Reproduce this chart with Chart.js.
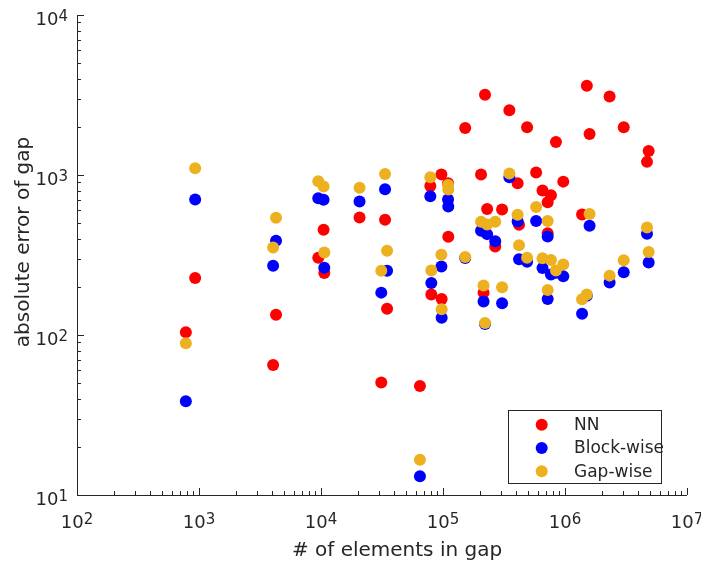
<!DOCTYPE html>
<html>
<head>
<meta charset="utf-8">
<script src="https://cdn.jsdelivr.net/npm/chart.js"></script>
<style>
  body { margin:0; padding:0; background:#fff }
  canvas { display:block }
</style>
</head>
<body>
<canvas id="chart" width="701" height="565"></canvas>
<script>
// gap sizes (# of elements) and absolute errors
const gapSizes = [780, 930, 4050, 4280, 9500, 10500, 10640, 20700, 31200, 33500,
  34800, 64700, 78700, 80200, 97000, 97500, 110000, 110500, 152000, 205000,
  215000, 221000, 230000, 268000, 305000, 350000, 409000, 420000, 489000, 580000,
  654000, 721000, 721000, 767000, 843000, 968000, 1380000, 1510000, 1590000, 2320000,
  3030000, 4700000, 4850000];
const nnError = [104, 227, 65, 134, 304, 455, 244, 542, 50.5, 525,
  146, 48, 855, 179, 1009, 168, 888, 411, 1967, 1006,
  184, 3176, 614, 357, 608, 2535, 888, 488, 1986, 1035,
  800, 676, 433, 747, 1607, 909, 566, 3614, 1803, 3097,
  1986, 1208, 1413];
const blockError = [38.5, 703, 271, 388, 716, 700, 263, 682, 184, 815,
  252, 13.1, 736, 211, 268, 128, 703, 635, 303, 448,
  162, 117, 427, 386, 158, 968, 512, 297, 287, 515,
  262, 413, 168, 239, 245, 233, 136, 176, 481, 213,
  247, 429, 284];
const gapError = [88.7, 1101, 352, 540, 914, 847, 328, 831, 252, 1016,
  336, 16.6, 968, 253, 317, 145, 865, 811, 307, 510,
  204, 119, 491, 510, 199, 1021, 564, 364, 304, 632,
  302, 515, 191, 294, 253, 276, 167, 179, 570, 235,
  293, 470, 330];

const xTickExps = [2, 3, 4, 5, 6, 7];
const yTickExps = [1, 2, 3, 4];
const seriesNames = ['NN', 'Block-wise', 'Gap-wise'];
const seriesColors = ['#ff0000', '#0000ff', '#edb120'];

const FONT = '"DejaVu Sans", "Liberation Sans", sans-serif';
const INK = '#262626';

function pts(vals) {
  return gapSizes.map((g, i) => ({ x: g, y: vals[i] }));
}

// draw "10" with a raised exponent; align = 'center' or 'right'
function drawPow(ctx, exp, x, baseline, align) {
  ctx.font = '18px ' + FONT;
  const wb = ctx.measureText('10').width;
  ctx.font = '15px ' + FONT;
  const we = ctx.measureText(String(exp)).width;
  const left = align === 'center' ? x - (wb + we) / 2 : x - wb - we;
  ctx.textAlign = 'left';
  ctx.textBaseline = 'alphabetic';
  ctx.font = '18px ' + FONT;
  ctx.fillText('10', left, baseline);
  ctx.font = '15px ' + FONT;
  ctx.fillText(String(exp), left + wb, baseline - 4);
}

const matlabAxes = {
  id: 'matlabAxes',
  afterDraw(chart) {
    const { ctx, chartArea: a, scales } = chart;
    const xs = scales.x, ys = scales.y;
    ctx.save();
    ctx.strokeStyle = INK;
    ctx.fillStyle = INK;
    ctx.lineWidth = 1;

    // axis lines (box off)
    ctx.beginPath();
    ctx.moveTo(a.left + 0.5, a.top);
    ctx.lineTo(a.left + 0.5, a.bottom + 0.5);
    ctx.lineTo(a.right, a.bottom + 0.5);
    ctx.stroke();

    // ticks, pointing inward
    ctx.beginPath();
    for (let k = xTickExps[0]; k <= xTickExps[xTickExps.length - 1]; k++) {
      const px = Math.round(xs.getPixelForValue(Math.pow(10, k))) + 0.5;
      ctx.moveTo(px, a.bottom); ctx.lineTo(px, a.bottom - 7);
      if (k === xTickExps[xTickExps.length - 1]) break;
      for (let m = 2; m < 10; m++) {
        const mx = Math.round(xs.getPixelForValue(m * Math.pow(10, k))) + 0.5;
        ctx.moveTo(mx, a.bottom); ctx.lineTo(mx, a.bottom - 4);
      }
    }
    for (let k = yTickExps[0]; k <= yTickExps[yTickExps.length - 1]; k++) {
      const py = Math.round(ys.getPixelForValue(Math.pow(10, k))) + 0.5;
      ctx.moveTo(a.left, py); ctx.lineTo(a.left + 7, py);
      if (k === yTickExps[yTickExps.length - 1]) break;
      for (let m = 2; m < 10; m++) {
        const my = Math.round(ys.getPixelForValue(m * Math.pow(10, k))) + 0.5;
        ctx.moveTo(a.left, my); ctx.lineTo(a.left + 4, my);
      }
    }
    ctx.stroke();

    // tick labels
    xTickExps.forEach(k => drawPow(ctx, k, xs.getPixelForValue(Math.pow(10, k)), a.bottom + 33, 'center'));
    yTickExps.forEach(k => drawPow(ctx, k, a.left - 9, ys.getPixelForValue(Math.pow(10, k)) + 9.5, 'right'));

    // axis titles
    ctx.font = '20px ' + FONT;
    ctx.textAlign = 'center';
    ctx.textBaseline = 'alphabetic';
    ctx.fillText('# of elements in gap', 397, 556);
    ctx.save();
    ctx.translate(29, 242);
    ctx.rotate(-Math.PI / 2);
    ctx.fillText('absolute error of gap', 0, 0);
    ctx.restore();

    // legend box
    ctx.fillStyle = '#ffffff';
    ctx.fillRect(508, 410, 154, 74);
    ctx.strokeStyle = INK;
    ctx.strokeRect(508.5, 410.5, 153, 73);
    ctx.font = '17px ' + FONT;
    ctx.textAlign = 'left';
    ctx.textBaseline = 'middle';
    seriesNames.forEach((name, i) => {
      const ry = 424.7 + i * 23.3;
      ctx.fillStyle = seriesColors[i];
      ctx.beginPath();
      ctx.arc(541.7, ry, 6, 0, Math.PI * 2);
      ctx.fill();
      ctx.fillStyle = INK;
      ctx.fillText(name, 574, ry + 1);
    });
    ctx.restore();
  }
};

const datasets = [nnError, blockError, gapError].map((vals, i) => ({
  label: seriesNames[i],
  data: pts(vals),
  backgroundColor: seriesColors[i],
  borderColor: seriesColors[i],
  borderWidth: 0,
  pointRadius: 6,
  pointHoverRadius: 6,
  order: 3 - i // Gap-wise drawn on top, NN at the bottom
}));

new Chart(document.getElementById('chart'), {
  type: 'scatter',
  data: { datasets: datasets },
  options: {
    responsive: false,
    animation: false,
    events: [],
    layout: { padding: { left: 77, top: 15, right: 14, bottom: 70 } },
    plugins: { legend: { display: false }, tooltip: { enabled: false } },
    scales: {
      x: { type: 'logarithmic', min: 100, max: 1e7, display: false },
      y: { type: 'logarithmic', min: 10, max: 1e4, display: false }
    }
  },
  plugins: [matlabAxes]
});
</script>
</body>
</html>
